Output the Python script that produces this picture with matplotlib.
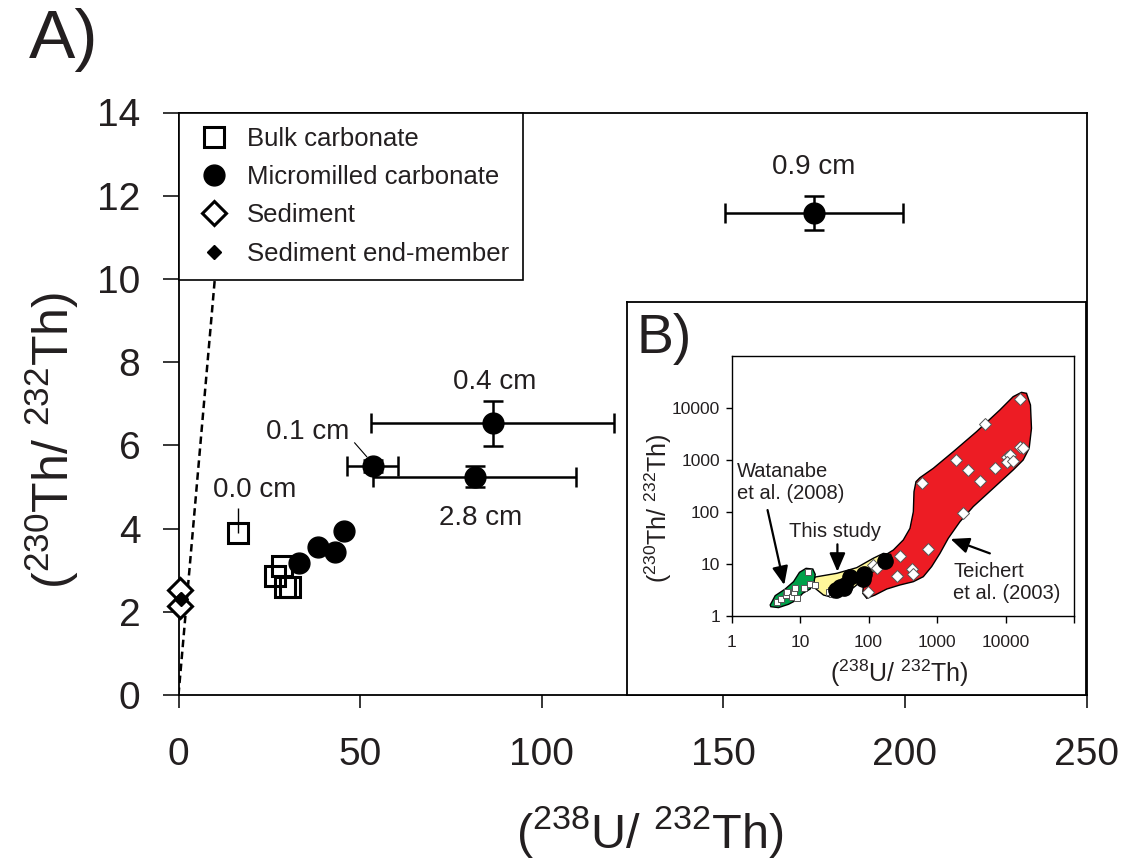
import matplotlib
matplotlib.use('Agg')
import matplotlib.pyplot as plt
from matplotlib.lines import Line2D

plt.rcParams['font.family'] = ['Liberation Sans', 'DejaVu Sans']
plt.rcParams['mathtext.fontset'] = 'custom'
plt.rcParams['mathtext.rm'] = 'Liberation Sans'
plt.rcParams['mathtext.it'] = 'Liberation Sans'
plt.rcParams['mathtext.bf'] = 'Liberation Sans:bold'

TXT = '#231f20'

# ---------------- Panel A data ----------------
bulk_x = [16.5, 28.4, 26.7, 29.2, 30.8]
bulk_y = [3.90, 3.10, 2.86, 2.60, 2.60]
bulk0_yerr_up = 0.6            # error bar on the 0.0 cm bulk sample

micro_x = [33.1, 38.5, 43.2, 45.5]
micro_y = [3.18, 3.56, 3.43, 3.95]

err_labels = ['0.1 cm', '0.4 cm', '2.8 cm', '0.9 cm']
err_x = [53.5, 86.5, 81.5, 175.0]
err_y = [5.51, 6.53, 5.25, 11.59]
err_xerr = [7.0, 33.5, 28.0, 24.6]
err_yerr = [0.15, 0.54, 0.25, 0.41]

sed_x = [0.55, 0.55]
sed_y = [2.52, 2.14]
end_x = [0.6]
end_y = [2.31]

equi_x = [0, 14]
equi_y = [0, 14]

x_ticks = [0, 50, 100, 150, 200, 250]
y_ticks = [0, 2, 4, 6, 8, 10, 12, 14]

# ---------------- Panel B data ----------------
teich_x = [99.3, 117, 131, 287, 257, 425, 450, 745, 608, 2355, 1884, 2849, 4217,
           4990, 6980, 10330, 11290, 11810, 10330, 12650, 16180, 18090, 16180]
teich_y = [2.85, 9.57, 8.26, 14.5, 5.88, 7.9, 6.33, 19.1, 356, 94, 1000, 642, 395,
           4853, 712, 1159, 1000, 1248, 902, 957, 1805, 1726, 14890]

wat_x = [4.57, 5.23, 6.25, 6.4, 7.56, 8.26, 8.45, 9.14, 11.2, 13.7, 13.2]
wat_y = [1.89, 2.09, 2.53, 2.85, 2.35, 2.94, 3.51, 2.25, 3.4, 4.19, 7.12]

red_x = [84, 105, 147, 230, 321, 402, 450, 460, 492, 562, 880, 1723, 3773, 8260,
         12920, 17100, 20240, 23130, 23930, 22130, 18090, 12920, 6600, 3375, 2156,
         1457, 1101, 832, 629, 450, 287, 184, 124, 94, 82]
red_y = [3.95, 7.1, 12.9, 18.6, 29, 48.5, 101, 246, 383, 457, 692, 1445, 3508, 9160,
         16520, 20000, 19140, 11430, 4064, 1676, 1000, 642, 285, 127, 65,
         31.2, 16.0, 8.9, 5.7, 4.57, 3.95, 3.3, 2.53, 2.19, 2.73]

yel_x = [15.3, 16.6, 34.3, 67, 117, 164, 210, 220, 164, 105, 67, 45.3, 30.6, 21.9, 16.6]
yel_y = [4.71, 5.62, 6.62, 8.5, 12.9, 16.0, 15.3, 12.5, 8.9, 6.62, 3.95, 2.61, 2.25, 2.53, 3.4]

grn_x = [3.65, 4.32, 6.04, 8.0, 9.78, 12.2, 15.3, 16.6, 16.0, 14.0, 10.9, 8.9, 6.76, 4.83, 3.73]
grn_y = [1.63, 2.46, 3.3, 4.57, 6.92, 8.26, 8.0, 6.33, 4.57, 3.3, 2.73, 2.03, 1.68, 1.45, 1.51]

b_ticks = [1, 10, 100, 1000, 10000, 100000]
b_ticklabels = ['1', '10', '100', '1000', '10000', '']
b_yticks = [1, 10, 100, 1000, 10000]
b_yticklabels = ['1', '10', '100', '1000', '10000']

# ---------------- Figure ----------------
W, H = 1133, 868
fig = plt.figure(figsize=(W / 100, H / 100), dpi=100)

ax = fig.add_axes([178.5 / W, 1 - 695 / H, 908 / W, 582.5 / H])
ax.set_xlim(0, 250)
ax.set_ylim(0, 14)
for s in ax.spines.values():
    s.set_linewidth(1.3)
ax.set_xticks(x_ticks)
ax.set_yticks(y_ticks)
ax.tick_params(axis='x', direction='out', length=9.5, width=1.1, pad=21,
               labelsize=28, labelcolor=TXT)
ax.tick_params(axis='y', direction='out', length=11.5, width=1.1, pad=16,
               labelsize=28, labelcolor=TXT)

# equiline
ax.plot(equi_x, equi_y, ls=(0, (3, 1.8)), color='black', lw=1.8, zorder=1)

# bulk carbonate
ax.errorbar([bulk_x[0]], [bulk_y[0]], yerr=[[0], [bulk0_yerr_up]], fmt='none',
            ecolor='black', elinewidth=1.0, capsize=0, zorder=4)
ax.plot(bulk_x, bulk_y, ls='none', marker='s', ms=15, mfc='none', mec='black',
        mew=2.2, zorder=3)

# micromilled
ax.plot(micro_x, micro_y, ls='none', marker='o', ms=15, mfc='black', mec='black',
        zorder=3)
ax.errorbar(err_x, err_y, xerr=err_xerr, yerr=err_yerr, fmt='o', ms=15,
            mfc='black', mec='black', ecolor='black', elinewidth=1.8,
            capsize=7.5, capthick=1.8, zorder=3)

# sediment
ax.plot(sed_x, sed_y, ls='none', marker='D', ms=12, mfc='white', mec='black',
        mew=2.2, zorder=5, clip_on=False)
ax.plot(end_x, end_y, ls='none', marker='D', ms=7, mfc='black', mec='black',
        zorder=6, clip_on=False)

# labels
lab_kw = dict(fontsize=20, color=TXT, ha='center', va='center')
ax.text(20.9, 4.93, '0.0 cm', **lab_kw)
ax.text(35.5, 6.33, err_labels[0], **lab_kw)
ax.text(87.0, 7.53, err_labels[1], **lab_kw)
ax.text(83.1, 4.26, err_labels[2], **lab_kw)
ax.text(175.0, 12.68, err_labels[3], **lab_kw)
ax.plot([48.5, 51.8], [6.06, 5.73], color='black', lw=0.8, zorder=2)

handles = [
    Line2D([], [], ls='none', marker='s', ms=15, mfc='none', mec='black', mew=2.2),
    Line2D([], [], ls='none', marker='o', ms=15, mfc='black', mec='black'),
    Line2D([], [], ls='none', marker='D', ms=12, mfc='white', mec='black', mew=2.2),
    Line2D([], [], ls='none', marker='D', ms=7, mfc='black', mec='black'),
]
leg = ax.legend(handles, ['Bulk carbonate', 'Micromilled carbonate', 'Sediment',
                          'Sediment end-member'],
                loc='upper left', bbox_to_anchor=(0, 1), borderaxespad=0,
                fontsize=18.5, frameon=True, fancybox=False, framealpha=1,
                edgecolor='black', borderpad=0.55, handlelength=1.7,
                handletextpad=0.4, labelspacing=0.56, labelcolor=TXT)
leg.get_frame().set_linewidth(1.2)
leg.set_zorder(10)

fig.text(52 / W, 1 - 440 / H, r'($^{230}$Th/ $^{232}$Th)', rotation=90,
         ha='center', va='center', fontsize=36, color=TXT)
fig.text(650 / W, 1 - 832 / H, r'($^{238}$U/ $^{232}$Th)',
         ha='center', va='center', fontsize=35, color=TXT)
fig.text(64 / W, 1 - 40 / H, 'A)', ha='center', va='center', fontsize=50, color=TXT)

# ---------------- Inset B ----------------
frame = fig.add_axes([627 / W, 1 - 695 / H, 459 / W, 393 / H])
frame.set_xticks([])
frame.set_yticks([])
frame.set_facecolor('white')
for s in frame.spines.values():
    s.set_linewidth(1.3)
frame.set_zorder(20)
fig.text(664 / W, 1 - 339 / H, 'B)', ha='center', va='center', fontsize=40,
         color=TXT, zorder=30)

axb = fig.add_axes([731.7 / W, 1 - 616 / H, 342.3 / W, 260 / H])
axb.set_zorder(25)
axb.set_xscale('log')
axb.set_yscale('log')
axb.set_xlim(1, 1e5)
axb.set_ylim(1, 1e5)
axb.set_xticks(b_ticks)
axb.set_xticklabels(b_ticklabels)
axb.set_yticks(b_yticks)
axb.set_yticklabels(b_yticklabels)
axb.minorticks_off()
for s in axb.spines.values():
    s.set_linewidth(1.0)
axb.tick_params(axis='x', direction='out', length=5, width=1, pad=9,
                labelsize=12.5, labelcolor=TXT)
axb.tick_params(axis='y', direction='out', length=4.5, width=1, pad=4,
                labelsize=12.5, labelcolor=TXT)

axb.fill(red_x, red_y, facecolor='#ed1c24', edgecolor='black', lw=1.0, zorder=1)
axb.fill(yel_x, yel_y, facecolor='#fff79a', edgecolor='black', lw=1.0, zorder=1.1)
axb.fill(grn_x, grn_y, facecolor='#00a14b', edgecolor='black', lw=1.0, zorder=1.2)

axb.plot(teich_x, teich_y, ls='none', marker='D', ms=6.5, mfc='white', mec='#555555',
         mew=0.7, zorder=3)
axb.plot(wat_x, wat_y, ls='none', marker='s', ms=5, mfc='white', mec='#555555',
         mew=0.7, zorder=3)
axb.plot(bulk_x, bulk_y, ls='none', marker='s', ms=5, mfc='white', mec='#555555',
         mew=0.7, zorder=3)
axb.plot(micro_x + err_x, micro_y + err_y, ls='none', marker='o', ms=11,
         mfc='black', mec='black', zorder=4)

arr = dict(arrowstyle='-|>,head_length=0.7,head_width=0.3', color='black', lw=1.6,
           mutation_scale=16, shrinkA=0, shrinkB=0)
axb.annotate('', xy=(5.85, 3.95), xytext=(3.34, 109), arrowprops=arr, zorder=5)
axb.annotate('', xy=(35, 7.12), xytext=(35, 23.9), arrowprops=arr, zorder=5)
axb.annotate('', xy=(1574, 30.3), xytext=(5900, 16.0), arrowprops=arr, zorder=5)

tkw = dict(fontsize=14.5, color=TXT, va='center')
axb.text(1.21, 597, 'Watanabe', ha='left', **tkw)
axb.text(1.21, 229, 'et al. (2008)', ha='left', **tkw)
axb.text(32.4, 41.9, 'This study', ha='center', **tkw)
axb.text(1722, 7.1, 'Teichert', ha='left', **tkw)
axb.text(1722, 2.73, 'et al. (2003)', ha='left', **tkw)

fig.text(899 / W, 1 - 673 / H, r'($^{238}$U/ $^{232}$Th)', ha='center',
         va='center', fontsize=18, color=TXT, zorder=30)
fig.text(658 / W, 1 - 508 / H, r'($^{230}$Th/ $^{232}$Th)', rotation=90,
         ha='center', va='center', fontsize=18, color=TXT, zorder=30)

fig.savefig('out.png', dpi=100)
